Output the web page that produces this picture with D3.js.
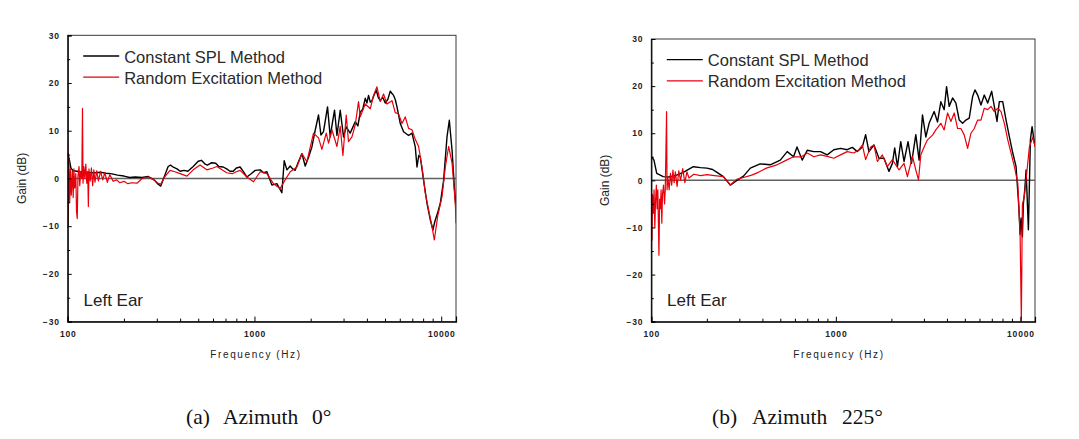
<!DOCTYPE html>
<html>
<head>
<meta charset="utf-8">
<script src="https://cdn.jsdelivr.net/npm/d3@7"></script>
<style>
  html, body { margin: 0; padding: 0; background: #ffffff; }
  svg { display: block; }
</style>
</head>
<body>
<svg id="chart" width="1079" height="439"></svg>
<script>
// ---------------- data ----------------
const seriesNames = ["Constant SPL Method", "Random Excitation Method"];
const panelLabel = "Left Ear";
const xAxisTitle = "Frequency (Hz)";
const yAxisTitle = "Gain (dB)";
const captionParts = [["(a)", "Azimuth", "0°"], ["(b)", "Azimuth", "225°"]];
const freqTicks = [100, 1000, 10000];
const freqMinorTicks = [200, 300, 400, 500, 600, 700, 800, 900, 2000, 3000, 4000, 5000, 6000, 7000, 8000, 9000];
const gainTicks = [-30, -20, -10, 0, 10, 20, 30];
const gainMinorTicks = [-25, -15, -5, 5, 15, 25];
const freqDomain = [100, 12000];
const gainDomain = [-30, 30];

// Azimuth 0°, Constant SPL Method  [frequency Hz, gain dB]
const az0Constant = [
  [100, 5.3], [102, 4.0], [104, 2.2], [107, 1.6], [112, 1.5], [120, 1.3], [130, 1.2], [140, 1.2],
  [150, 1.3], [160, 1.1], [170, 1.0], [185, 0.7], [200, 0.5], [215, 0.2], [230, 0.3], [250, 0.2],
  [270, 0.4], [290, -0.3], [305, -1.2], [315, -1.6], [330, 0.5], [345, 2.5], [355, 2.8], [370, 2.3],
  [385, 2.0], [400, 1.5], [420, 1.7], [440, 1.5], [470, 2.5], [500, 3.6], [520, 3.8], [545, 3.0],
  [560, 2.8], [590, 3.3], [620, 3.2], [645, 2.5], [680, 2.4], [710, 2.0], [740, 1.5], [770, 1.5],
  [800, 2.2], [838, 2.4], [880, 1.2], [911, 0.3], [960, 1.0], [1009, 1.7], [1073, 1.8], [1120, 1.2],
  [1166, 1.4], [1240, -1.4], [1318, -1.1], [1402, -3.0], [1443, 3.7], [1492, 1.8], [1554, 2.6],
  [1600, 2.0], [1652, 1.7], [1720, 3.5], [1795, 5.2], [1870, 2.6], [1950, 4.5], [2030, 6.6],
  [2115, 10.1], [2203, 13.3], [2269, 9.1], [2343, 9.8], [2462, 15.0], [2545, 8.7], [2610, 11.5],
  [2684, 14.3], [2765, 9.0], [2879, 14.3], [2999, 8.7], [3100, 10.8], [3256, 9.5], [3464, 11.9],
  [3580, 11.0], [3685, 13.9], [3800, 14.5], [3919, 16.8], [4000, 15.8], [4082, 17.4], [4170, 16.0],
  [4257, 16.3], [4370, 17.5], [4489, 18.5], [4600, 17.0], [4716, 16.3], [4860, 17.0], [5016, 15.8],
  [5180, 16.6], [5337, 18.3], [5450, 17.8], [5559, 17.4], [5680, 16.5], [5797, 15.0], [6037, 11.5],
  [6288, 9.8], [6687, 9.0], [6973, 9.5], [7264, 6.6], [7418, 2.4], [7580, 4.8], [7727, 4.5],
  [8049, -0.4], [8393, -5.2], [8742, -8.7], [9039, -10.8], [9180, -9.5], [9298, -8.7], [9600, -7.0],
  [9889, -5.2], [10300, -0.4], [10740, 8.7], [11050, 12.2], [11430, 5.9], [11750, -1.6], [12000, -6.6]
];

// Azimuth 0°, Random Excitation Method
const az0Random = [
  [100, 7.5], [100.5, -10.0], [101.5, 4.0], [102.5, -5.0], [103.5, 2.0], [104.5, -3.5], [106, 1.5],
  [107, -4.0], [108, 2.0], [109, -2.0], [110.5, 1.0], [111.5, -7.0], [112.5, -8.4], [113.5, 0.5],
  [115, 2.5], [116, -1.5], [117.5, 1.5], [119, 0.0], [120, 14.7], [120.8, -1.0], [122, 2.5],
  [123.5, 0.0], [125, 3.0], [126.5, -1.0], [128, 1.5], [129, -5.9], [130, 2.0], [132, -0.5],
  [134, 2.2], [136, -1.5], [138, 1.8], [140, -0.8], [143, 1.6], [146, -0.5], [150, 1.5], [154, -0.3],
  [158, 1.2], [163, -0.8], [168, 0.8], [175, -0.6], [183, -0.3], [190, -0.9], [200, -0.6],
  [210, -1.1], [220, -0.9], [235, -1.0], [250, 0.0], [270, 0.3], [290, -0.3], [305, -1.0],
  [315, -1.2], [330, 0.3], [353, 1.7], [375, 1.4], [400, 1.0], [435, 0.5], [470, 1.8], [511, 2.8],
  [556, 1.8], [600, 2.2], [630, 2.5], [670, 1.8], [710, 1.2], [760, 1.0], [800, 1.4], [838, 1.7],
  [911, 0.3], [988, -0.7], [1073, 1.4], [1166, 1.0], [1264, -1.1], [1373, -2.1], [1460, -0.3],
  [1554, 1.4], [1688, 2.4], [1795, 5.2], [1909, 3.5], [2071, 9.5], [2203, 8.5], [2297, 6.1],
  [2423, 9.5], [2493, 7.4], [2599, 10.2], [2765, 6.7], [2879, 10.9], [2976, 4.8], [3100, 13.3],
  [3188, 7.7], [3327, 8.7], [3464, 11.2], [3608, 16.1], [3685, 12.9], [3919, 15.6], [4169, 14.6],
  [4343, 17.4], [4528, 19.2], [4716, 16.1], [4912, 17.7], [5122, 15.6], [5450, 16.3], [5675, 13.8],
  [5912, 13.5], [6165, 11.5], [6418, 12.9], [6687, 10.5], [6973, 10.2], [7264, 8.2], [7567, 6.7],
  [7891, 2.4], [8219, -3.1], [8561, -6.6], [8927, -10.1], [9185, -12.9], [9566, -8.0],
  [10100, -3.8], [10520, 2.4], [10960, 6.7], [11430, 3.2], [11900, -5.2], [12000, -9.4]
];

// Azimuth 225°, Constant SPL Method
const az225Constant = [
  [100.5, 5.0], [103.4, 4.3], [107, 1.5], [116, 0.8], [125, 0.7], [137, 1.1], [149, 1.7], [169, 2.9],
  [185, 2.7], [200, 2.6], [215, 2.3], [227, 1.7], [246, 0.8], [268, -1.0], [291, 0.0], [316, 0.9],
  [344, 2.6], [389, 3.5], [441, 3.3], [500, 4.3], [545, 6.1], [590, 5.0], [616, 7.1], [657, 4.3],
  [700, 6.4], [760, 6.1], [826, 6.1], [898, 5.4], [975, 6.5], [1060, 6.8], [1153, 6.5], [1228, 7.0],
  [1307, 6.1], [1392, 7.1], [1450, 9.7], [1511, 6.1], [1609, 7.5], [1713, 4.7], [1824, 4.7],
  [1941, 1.9], [2025, 3.6], [2084, 6.9], [2157, 2.9], [2247, 8.2], [2342, 4.0], [2462, 8.2],
  [2570, 3.6], [2712, 9.7], [2826, 4.3], [2948, 13.9], [3073, 9.2], [3202, 12.1], [3409, 14.6],
  [3557, 12.4], [3707, 16.7], [3864, 15.0], [3981, 19.9], [4113, 15.7], [4292, 17.5], [4473, 16.4],
  [4662, 12.8], [4865, 12.1], [5069, 12.8], [5282, 13.2], [5512, 17.8], [5673, 19.2], [5869, 18.1],
  [6115, 16.0], [6372, 18.1], [6649, 16.4], [6991, 18.9], [7223, 15.7], [7471, 12.5], [7689, 16.7],
  [8022, 16.7], [8362, 12.8], [8715, 9.3], [9094, 5.8], [9476, 2.9], [9802, -5.5], [9963, -11.5],
  [10090, -8.0], [10250, -12.0], [10380, -5.0], [10560, -2.0], [10740, 2.2], [11050, -10.5],
  [11330, 8.6], [11570, 11.4], [11910, 7.9], [12000, 7.2]
];

// Azimuth 225°, Random Excitation Method
const az225Random = [
  [100, 0.0], [100.8, -12.7], [101.5, -3.0], [102.5, -7.0], [103.5, -2.0], [104.5, -10.0],
  [105.5, -4.0], [106.5, -1.0], [107.5, -6.0], [108.5, -2.0], [110, -15.9], [111, -4.0], [112, -6.0],
  [113, -2.0], [114, -9.1], [115, -3.0], [116.5, -1.0], [118, -5.0], [119, -2.0], [120, 6.0],
  [121, 14.6], [121.7, -2.0], [123, 0.5], [125, -2.0], [127, 1.5], [129, -1.0], [131, 2.2],
  [133, -0.5], [135, 1.8], [138, -1.3], [141, 2.0], [144, 0.0], [148, 2.5], [152, -0.5], [156, 1.8],
  [160, 0.5], [170, 1.3], [185, 1.0], [200, 1.2], [220, 1.0], [246, 0.8], [268, -1.0], [290, 0.2],
  [316, 0.6], [350, 1.1], [380, 1.7], [420, 2.6], [480, 3.3], [540, 4.3], [590, 5.0], [650, 5.0],
  [700, 5.8], [760, 5.0], [826, 5.4], [898, 5.1], [975, 4.7], [1060, 5.4], [1153, 6.1], [1253, 5.8],
  [1334, 6.5], [1392, 7.5], [1450, 4.4], [1544, 7.1], [1609, 7.5], [1679, 4.0], [1787, 5.4],
  [1902, 2.9], [2025, 4.4], [2200, 2.2], [2342, 3.6], [2443, 0.8], [2602, 5.1], [2712, 2.2],
  [2805, 0.1], [2886, 5.4], [3008, 7.1], [3139, 8.6], [3341, 9.6], [3482, 10.7], [3707, 12.1],
  [3864, 10.7], [4031, 14.3], [4202, 12.5], [4379, 14.3], [4569, 11.0], [4762, 11.0], [4963, 9.6],
  [5178, 6.8], [5396, 10.0], [5623, 11.0], [5869, 12.8], [6115, 12.8], [6372, 15.3], [6649, 15.0],
  [6931, 15.7], [7223, 14.6], [7537, 15.3], [7854, 14.6], [8185, 12.1], [8542, 8.6], [8903, 5.8],
  [9278, 2.9], [9681, -0.6], [9963, -11.2], [10120, -30.0], [10250, -5.2], [10510, -3.3],
  [10870, 2.2], [11190, 7.1], [11680, 9.2], [12000, 7.2]
];

// ---------------- layout ----------------
const panels = [
  { left: 67.7, right: 456, top: 35.3, bottom: 321.6, constant: az0Constant, random: az0Random,
    caption: captionParts[0], capX: [186, 223, 312], yTitleX: 22, xTitleX: 256 },
  { left: 651.3, right: 1035, top: 39, bottom: 321.7, constant: az225Constant, random: az225Random,
    caption: captionParts[1], capX: [712, 752, 842], yTitleX: 605, xTitleX: 839 }
];

const svg = d3.select("#chart");
const sans = "Arial, 'Liberation Sans', sans-serif";

panels.forEach((p, i) => {
  const x = d3.scaleLog().domain(freqDomain).range([p.left, p.right]);
  const y = d3.scaleLinear().domain(gainDomain).range([p.bottom, p.top]);
  const g = svg.append("g");

  const clipId = "clip" + i;
  svg.append("clipPath").attr("id", clipId).append("rect")
    .attr("x", p.left).attr("y", p.top).attr("width", p.right - p.left).attr("height", p.bottom - p.top + 1);

  // frame (top & right)
  g.append("rect").attr("x", p.left).attr("y", p.top)
    .attr("width", p.right - p.left).attr("height", p.bottom - p.top)
    .attr("fill", "none").attr("stroke", "#3a3a3a").attr("stroke-width", 1);

  // zero line
  g.append("line").attr("x1", p.left).attr("x2", p.right).attr("y1", y(0)).attr("y2", y(0))
    .attr("stroke", "#606060").attr("stroke-width", 1.5);

  // series
  const line = d3.line().x(d => x(d[0])).y(d => y(d[1]));
  const lg = g.append("g").attr("clip-path", `url(#${clipId})`);
  lg.append("path").datum(p.constant).attr("d", line)
    .attr("fill", "none").attr("stroke", "#000").attr("stroke-width", 1.4).attr("stroke-linejoin", "round");
  lg.append("path").datum(p.random).attr("d", line)
    .attr("fill", "none").attr("stroke", "#e8000b").attr("stroke-width", 1.2).attr("stroke-linejoin", "round");

  // y axis
  const yAxis = g.append("g").attr("transform", `translate(${p.left},0)`)
    .call(d3.axisLeft(y).tickValues(gainTicks).tickSize(-4).tickPadding(8).tickFormat(d3.format("d")));
  g.append("g").attr("transform", `translate(${p.left},0)`)
    .call(d3.axisLeft(y).tickValues(gainMinorTicks).tickSize(-2.5).tickFormat(""))
    .call(a => a.select(".domain").remove());
  // x axis
  const xAxis = g.append("g").attr("transform", `translate(0,${p.bottom})`)
    .call(d3.axisBottom(x).tickValues(freqTicks).tickSize(-5).tickPadding(9).tickFormat(d3.format("d")));
  g.append("g").attr("transform", `translate(0,${p.bottom})`)
    .call(d3.axisBottom(x).tickValues(freqMinorTicks).tickSize(-3).tickFormat(""))
    .call(a => a.select(".domain").remove());

  [yAxis, xAxis].forEach(a => {
    a.select(".domain").attr("stroke", "#000").attr("stroke-width", 1.2);
    a.selectAll("text").attr("font-family", sans).attr("font-size", 8.5).attr("font-weight", "bold")
      .attr("fill", "#222").attr("letter-spacing", "0.8px");
  });
  g.selectAll(".tick line").attr("stroke", "#000");

  // axis titles
  g.append("text").attr("x", p.xTitleX).attr("y", 358).attr("text-anchor", "middle")
    .attr("font-family", sans).attr("font-size", 10).attr("letter-spacing", "1.6px").attr("fill", "#222")
    .text(xAxisTitle);
  g.append("text").attr("transform", `translate(${p.yTitleX + 4},${y(0)}) rotate(-90)`)
    .attr("text-anchor", "middle").attr("font-family", sans).attr("font-size", 12).attr("fill", "#222")
    .text(yAxisTitle);

  // legend
  const lx = p.left + 15.5, ly = p.top + 20.7;
  [["#000", 0], ["#e8000b", 1]].forEach(([c, k]) => {
    g.append("line").attr("x1", lx).attr("x2", lx + 36).attr("y1", ly + k * 21.2).attr("y2", ly + k * 21.2)
      .attr("stroke", c).attr("stroke-width", 1.3);
    g.append("text").attr("x", lx + 41).attr("y", ly + k * 21.2 + 6.5)
      .attr("font-family", sans).attr("font-size", 16.5).attr("fill", "#2a2a2a").text(seriesNames[k]);
  });

  // panel label
  g.append("text").attr("x", p.left + 15.8).attr("y", 305.5)
    .attr("font-family", sans).attr("font-size", 17).attr("fill", "#222").text(panelLabel);

  // caption
  p.caption.forEach((t, k) => {
    svg.append("text").attr("x", p.capX[k]).attr("y", 423.5)
      .attr("font-family", "'Liberation Serif', 'Times New Roman', serif").attr("font-size", 21.5)
      .attr("fill", "#111").text(t);
  });
});
</script>
</body>
</html>
